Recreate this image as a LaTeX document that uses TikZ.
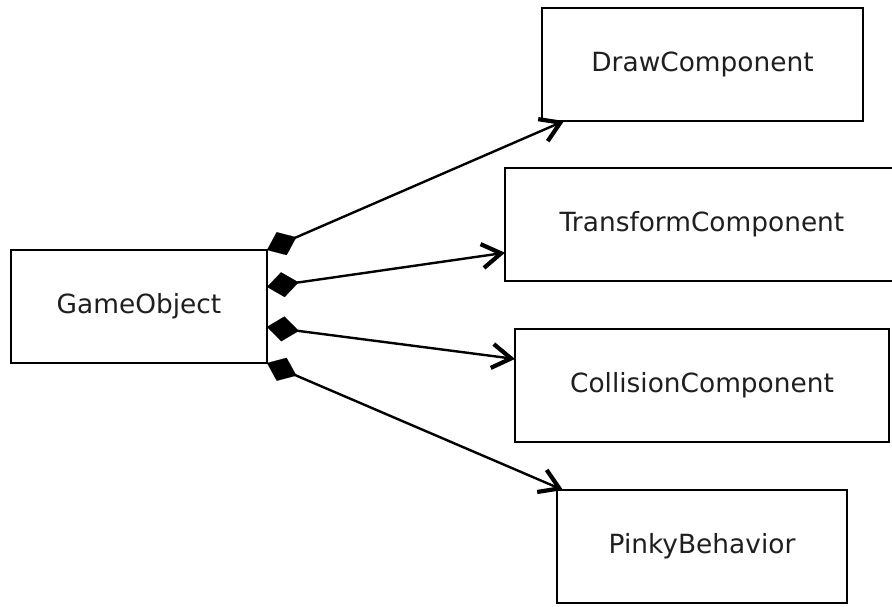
\documentclass[tikz,border=0pt]{standalone}
\usepackage{fontspec}
\setmainfont{DejaVu Sans}
\usetikzlibrary{arrows.meta,calc}
\begin{document}
\begin{tikzpicture}[x=1pt,y=-1pt,
  box/.style={draw=black,line width=2pt,rectangle,inner sep=0pt,outer sep=0pt,
    font=\fontsize{26.4}{30}\selectfont,text=black!88},
  comp/.style={draw=black,line width=2.4pt,
    {Diamond[length=32pt,width=25pt,line width=0.1pt]}-{Straight Barb[length=19pt,width=24pt,line width=4.2pt]}}]
\clip (0,0) rectangle (892,607);
\fill[white] (0,0) rectangle (892,607);
\node[box,minimum width=256pt,minimum height=113pt] (go) at (139,306.5) {GameObject};
\node[box,minimum width=321pt,minimum height=113pt] (dc) at (702.5,64.5) {DrawComponent};
\node[box,minimum width=394pt,minimum height=113pt] (tc) at (702,224.5) {TransformComponent};
\node[box,minimum width=374pt,minimum height=113pt] (cc) at (702,385.5) {CollisionComponent};
\node[box,minimum width=290pt,minimum height=113pt] (pb) at (702,546.5) {PinkyBehavior};
\coordinate (s1) at (go.north east);
\coordinate (s2) at ($(go.north east)!0.327!(go.south east)$);
\coordinate (s3) at ($(go.north east)!0.68!(go.south east)$);
\coordinate (s4) at (go.south east);
\coordinate (t1) at ($(dc.south west)+(22,0)$);
\coordinate (t2) at ($(tc.north west)!0.75!(tc.south west)$);
\coordinate (t3) at ($(cc.north west)!0.265!(cc.south west)$);
\coordinate (t4) at ($(pb.north west)+(6,0)$);
\draw[comp] (s1) -- (t1);
\draw[comp] (s2) -- (t2);
\draw[comp] (s3) -- (t3);
\draw[comp] (s4) -- (t4);
\end{tikzpicture}
\end{document}
